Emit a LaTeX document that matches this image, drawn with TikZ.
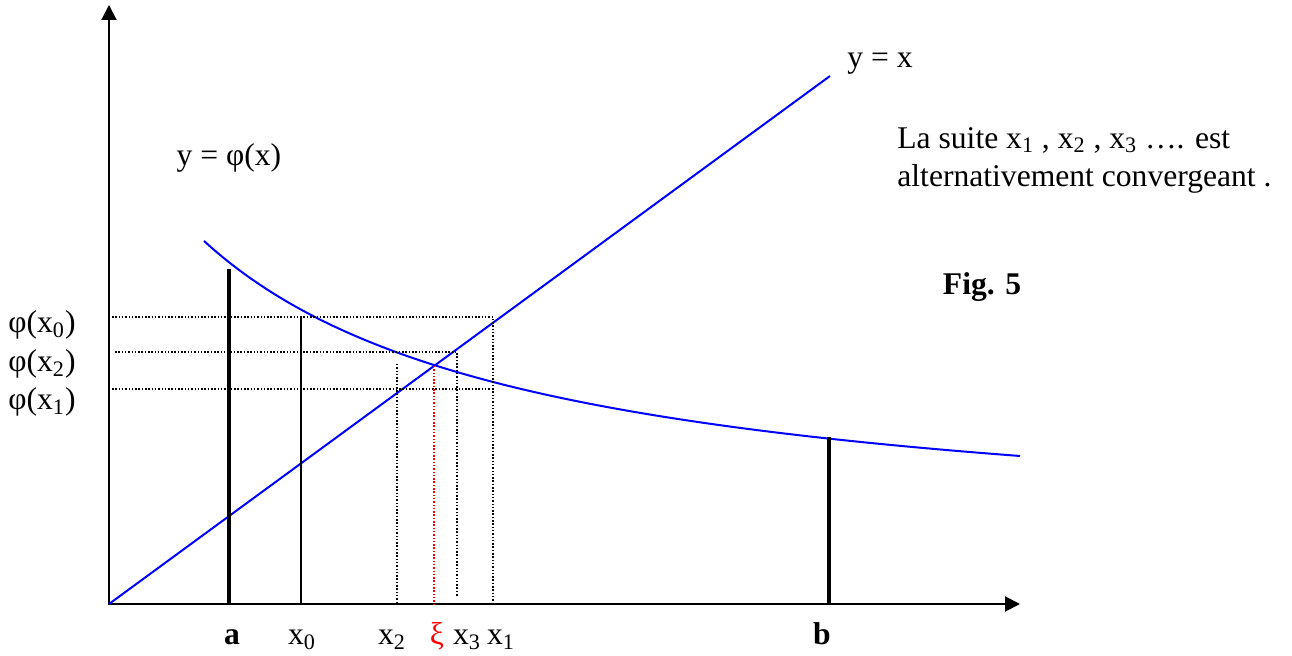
\documentclass[tikz,border=0pt]{standalone}
\usepackage{fontspec}
\setmainfont{Liberation Serif}
\usetikzlibrary{arrows.meta}
\definecolor{curve}{HTML}{0000FF}
\definecolor{root}{HTML}{FF0000}
\newcommand{\labelsize}{\fontsize{15.8}{19.4}\selectfont}
\begin{document}
\begin{tikzpicture}[x=0.5pt,y=-0.5pt,font=\labelsize,
 axis/.style={-{Triangle[length=7.5pt,width=7.5pt]},line width=1pt},
 graph/.style={draw=curve,line width=1pt},
 bound/.style={line width=2pt},
 guide/.style={line width=0.7pt,dash pattern=on 0.75pt off 0.9pt},
 lab/.style={anchor=base,inner sep=0pt},
 boldlab/.style={lab,font=\labelsize\bfseries}]
\path[use as bounding box] (0,0) rectangle (1292,656);
% axes
\draw[axis] (108,604)--(1020,604);
\draw[axis] (109,604)--(109,5);
% graphs
\draw[graph] plot[domain=204:1020,samples=90] (\x,{542.9-995.70/((\x+125.8)/100)});
\draw[graph] (109,604)--(830,76);
% interval and start
\draw[bound] (229,604)--(229,269);
\draw[bound] (829,604)--(829,437);
\draw[line width=1pt] (301,604)--(301,317);
% iteration guides
\draw[guide] (112,317)--(493,317)--(493,604);
\draw[guide] (115,352)--(457,352)--(457,597);
\draw[guide] (112,389)--(493,389);
\draw[guide] (397,364)--(397,604);
\draw[guide,draw=root] (434,366)--(434,604);
% labels
\node[boldlab] (a) at (232,645) {a};
\node[lab] (x0) at (302,645) {x\textsubscript{0}};
\node[lab] (x2) at (392,645) {x\textsubscript{2}};
\node[lab,text=root] (xi) at (437,645) {ξ};
\node[lab] (x3) at (467,645) {x\textsubscript{3}};
\node[lab] (x1) at (501,645) {x\textsubscript{1}};
\node[boldlab] (b) at (822,645) {b};
\node[lab] (phi0) at (42,333) {φ(x\textsubscript{0})};
\node[lab] (phi2) at (42,372) {φ(x\textsubscript{2})};
\node[lab] (phi1) at (42,410) {φ(x\textsubscript{1})};
\node[lab] (phicurve) at (229,166) {y = φ(x)};
\node[lab] (diag) at (880,68) {y = x};
\node[anchor=base west,inner sep=0pt,align=left] (note) at (897,187) {La suite x\textsubscript{1} , x\textsubscript{2} , x\textsubscript{3} …. est\\alternativement convergeant .};
\node[boldlab] (fig) at (982,295) {Fig. 5};
\end{tikzpicture}
\end{document}
